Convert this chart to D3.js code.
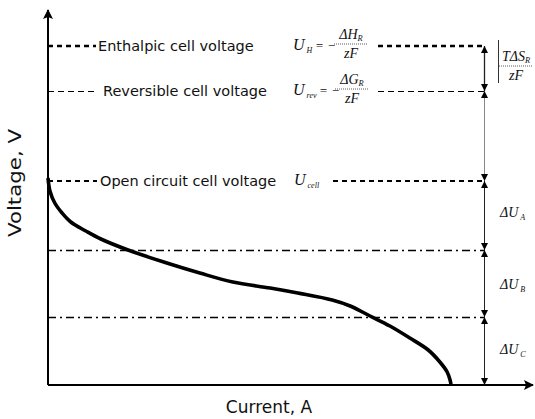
<!DOCTYPE html>
<html>
<head>
<meta charset="utf-8">
<script src="https://cdn.jsdelivr.net/npm/d3@7"></script>
<style>
  body { margin: 0; background: #fff; }
  svg { display: block; }
  .lbl { font-family: "DejaVu Sans", sans-serif; font-size: 14.5px; fill: #111; }
  .ax { font-family: "DejaVu Sans", sans-serif; font-size: 17px; fill: #111; }
  .m { font-family: "Liberation Serif", serif; font-style: italic; fill: #111; }
</style>
</head>
<body>
<svg id="chart" width="535" height="419"></svg>
<script>
// Polarisation curve: current (arbitrary units) vs. cell voltage (arbitrary units)
const currentVals = [0, 0.004, 0.014, 0.029, 0.047, 0.078, 0.109, 0.165, 0.245, 0.313, 0.381, 0.458, 0.515, 0.586, 0.623, 0.664, 0.705, 0.746, 0.784, 0.808, 0.823, 0.829, 0.831];
const voltageVals = [0.828, 0.776, 0.728, 0.688, 0.652, 0.616, 0.584, 0.54, 0.488, 0.448, 0.412, 0.388, 0.368, 0.34, 0.316, 0.276, 0.236, 0.188, 0.14, 0.092, 0.052, 0.02, 0];

// Characteristic voltage levels
const levelNames = ["Enthalpic cell voltage", "Reversible cell voltage", "Open circuit cell voltage"];
const levelValues = [1.356, 1.176, 0.816];
// Boundaries between the loss regions A / B / C
const lossBounds = [0.54, 0.272];
const lossLabels = ["A", "B", "C"];

const svg = d3.select("#chart");
const x = d3.scaleLinear().domain([0, 1]).range([48, 533]);
const y = d3.scaleLinear().domain([0, 1.5]).range([385, 10]);
const xBar = 0.899; // current position of the dimension line

// arrow markers
const defs = svg.append("defs");
defs.append("marker").attr("id", "axArrow").attr("viewBox", "0 0 10 10")
  .attr("refX", 9).attr("refY", 5).attr("markerWidth", 10).attr("markerHeight", 10)
  .attr("markerUnits", "userSpaceOnUse").attr("orient", "auto")
  .append("path").attr("d", "M0,0 L10,5 L0,10 L2,5 Z").attr("fill", "#000");
defs.append("marker").attr("id", "dimArrow").attr("viewBox", "0 0 10 10")
  .attr("refX", 10).attr("refY", 5).attr("markerWidth", 8).attr("markerHeight", 7)
  .attr("markerUnits", "userSpaceOnUse").attr("orient", "auto-start-reverse")
  .append("path").attr("d", "M0,0 L10,5 L0,10 Z").attr("fill", "#000");

// axes
svg.append("line").attr("x1", x(0)).attr("y1", y(0)).attr("x2", x(0)).attr("y2", y(1.5))
  .attr("stroke", "#000").attr("stroke-width", 2).attr("marker-end", "url(#axArrow)");
svg.append("line").attr("x1", x(0)).attr("y1", y(0)).attr("x2", x(1)).attr("y2", y(0))
  .attr("stroke", "#000").attr("stroke-width", 2).attr("marker-end", "url(#axArrow)");

svg.append("text").attr("class", "ax").attr("text-anchor", "middle")
  .attr("transform", `translate(21,183) rotate(-90)`)
  .attr("textLength", 108).attr("lengthAdjust", "spacingAndGlyphs").text("Voltage, V");
svg.append("text").attr("class", "ax").attr("text-anchor", "middle")
  .attr("x", 269).attr("y", 413).text("Current, A");

// voltage level lines: left stub, label, formula, right segment
const styles = [
  { w: 2.6, dash: "5,4", stubEnd: 96, txt: 98, rightStart: 378 },
  { w: 1.1, dash: "6,4", stubEnd: 98, txt: 103, rightStart: 378 },
  { w: 2.2, dash: "5,4", stubEnd: 97, txt: 100, rightStart: 333 }
];
levelValues.forEach((v, i) => {
  const s = styles[i];
  const yy = Math.round(y(v)) + (s.w < 2 ? 0.5 : 0);
  svg.append("line").attr("x1", x(0)).attr("x2", s.stubEnd).attr("y1", yy).attr("y2", yy)
    .attr("stroke", "#000").attr("stroke-width", s.w).attr("stroke-dasharray", s.dash);
  svg.append("text").attr("class", "lbl").attr("x", s.txt).attr("y", y(v) + 5).text(levelNames[i]);
  svg.append("line").attr("x1", s.rightStart).attr("x2", x(xBar)).attr("y1", yy).attr("y2", yy)
    .attr("stroke", "#000").attr("stroke-width", s.w).attr("stroke-dasharray", s.dash);
});

// formulas
function fraction(g, cx, yb, num, sub, den, size) {
  const t = g.append("text").attr("class", "m").attr("x", cx).attr("y", yb - 7)
    .attr("text-anchor", "middle").attr("font-size", size);
  t.append("tspan").text(num);
  t.append("tspan").attr("font-size", size * 0.6).attr("dy", 2).text(sub);
  g.append("line").attr("x1", cx - 17).attr("x2", cx + 17).attr("y1", yb - 2).attr("y2", yb - 2)
    .attr("stroke", "#333").attr("stroke-width", 0.8).attr("stroke-dasharray", "1,1");
  g.append("text").attr("class", "m").attr("x", cx).attr("y", yb + 12)
    .attr("text-anchor", "middle").attr("font-size", size).text(den);
}
function lhs(g, xl, yb, sub) {
  const t = g.append("text").attr("class", "m").attr("x", xl).attr("y", yb + 4).attr("font-size", 16);
  t.append("tspan").text("U");
  t.append("tspan").attr("font-size", 8).attr("dy", 3).attr("dx", 2).text(sub);
  return t;
}
const fg = svg.append("g");
const yH = y(levelValues[0]), yR = y(levelValues[1]), yC = y(levelValues[2]);
lhs(fg, 293, yH, "H");
fg.append("text").attr("class", "m").attr("x", 315).attr("y", yH + 4).attr("font-size", 13).attr("font-style", "normal").text("= −");
fraction(fg, 351, yH, "ΔH", "R", "zF", 14);
lhs(fg, 293, yR, "rev");
fg.append("text").attr("class", "m").attr("x", 319).attr("y", yR + 4).attr("font-size", 13).attr("font-style", "normal").text("= −");
fraction(fg, 352, yR, "ΔG", "R", "zF", 14);
lhs(fg, 294, yC, "cell");

// loss boundaries (dash-dot)
lossBounds.forEach(v => {
  const yy = Math.round(y(v)) + 0.5;
  svg.append("line").attr("x1", x(0)).attr("x2", x(xBar)).attr("y1", yy).attr("y2", yy)
    .attr("stroke", "#000").attr("stroke-width", 1.5).attr("stroke-dasharray", "8,4,2,4");
});

// dimension lines with arrows
const stops = [levelValues[0], levelValues[1], levelValues[2], lossBounds[0], lossBounds[1], 0];
const xd = Math.round(x(xBar)) + 0.5;
for (let i = 0; i < stops.length - 1; i++) {
  svg.append("line").attr("x1", xd).attr("x2", xd)
    .attr("y1", y(stops[i])).attr("y2", y(stops[i + 1]))
    .attr("stroke", i === 1 ? "#888" : "#222").attr("stroke-width", i === 0 ? 1.3 : 1)
    .attr("marker-start", "url(#dimArrow)").attr("marker-end", "url(#dimArrow)");
}

// TΔS/zF label
const tg = svg.append("g");
tg.append("line").attr("x1", 498.5).attr("x2", 498.5).attr("y1", yH - 6).attr("y2", yR - 8)
  .attr("stroke", "#333").attr("stroke-width", 1);
fraction(tg, 516, yH + 22, "TΔS", "R", "zF", 14);

// ΔU labels
const mids = [(levelValues[2] + lossBounds[0]) / 2 + 0.015, (lossBounds[0] + lossBounds[1]) / 2, lossBounds[1] / 2 + 0.01];
mids.forEach((v, i) => {
  const t = svg.append("text").attr("class", "m").attr("x", 500).attr("y", y(v) + 5)
    .attr("font-size", 14).attr("font-style", "normal");
  t.append("tspan").text("Δ");
  t.append("tspan").attr("font-style", "italic").text("U");
  t.append("tspan").attr("font-size", 8).attr("font-style", "italic").attr("dy", 3).attr("dx", 2).text(lossLabels[i]);
});

// polarisation curve
const pts = currentVals.map((c, i) => [c, voltageVals[i]]);
svg.append("path").datum(pts)
  .attr("d", d3.line().x(d => x(d[0])).y(d => y(d[1])).curve(d3.curveCatmullRom.alpha(0.5)))
  .attr("fill", "none").attr("stroke", "#000").attr("stroke-width", 3.6);
</script>
</body>
</html>
